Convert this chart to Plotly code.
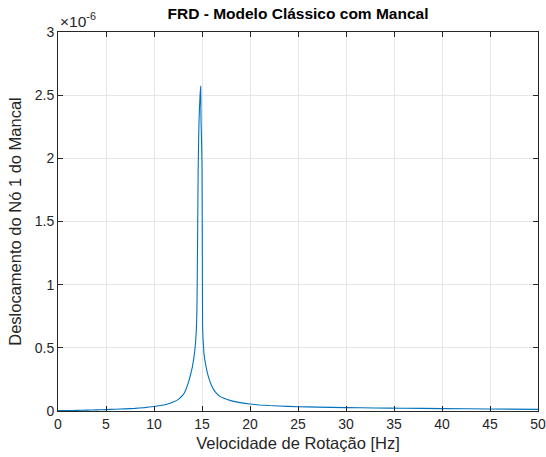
import plotly.graph_objects as go

# Frequency response of bearing node 1 (rotation speed in Hz, displacement in m)
freq_hz = [0, 1, 2, 3, 4, 5, 6, 7, 8, 9, 10, 10.5, 11, 11.5, 12, 12.5, 13, 13.3,
           13.6, 13.8, 14.0, 14.15, 14.25, 14.35, 14.42, 14.47, 14.5, 14.55,
           14.6, 14.65, 14.7, 14.75, 14.8, 14.86, 14.9, 14.95, 15.0, 15.03,
           15.06, 15.1, 15.2, 15.3, 15.45, 15.6, 15.8, 16.0, 16.4, 16.8, 17.3,
           18, 19, 20, 21, 22, 23, 25, 27, 30, 33, 36, 40, 45, 50]
desloc_micro = [0.003, 0.004, 0.005, 0.007, 0.009, 0.011, 0.014, 0.017, 0.021,
                0.027, 0.036, 0.041, 0.048, 0.058, 0.072, 0.090, 0.125, 0.165,
                0.230, 0.285, 0.350, 0.420, 0.480, 0.560, 0.660, 0.800, 1.000,
                1.450, 1.900, 2.150, 2.320, 2.420, 2.500, 2.570, 2.300, 2.150,
                1.950, 1.350, 0.680, 0.580, 0.460, 0.400, 0.340, 0.290, 0.240,
                0.200, 0.150, 0.120, 0.100, 0.082, 0.066, 0.055, 0.048, 0.043,
                0.040, 0.034, 0.031, 0.027, 0.024, 0.022, 0.019, 0.016, 0.013]
deslocamento = [v * 1e-6 for v in desloc_micro]

x_ticks = [0, 5, 10, 15, 20, 25, 30, 35, 40, 45, 50]
y_tick_labels = ["0", "0.5", "1", "1.5", "2", "2.5", "3"]
y_ticks = [float(t) * 1e-6 for t in y_tick_labels]

FONT = "Liberation Sans, Arial, sans-serif"
AXIS_GRAY = "#262626"

fig = go.Figure()
fig.add_trace(go.Scatter(
    x=freq_hz, y=deslocamento, mode="lines",
    line=dict(color="#0072BD", width=1.1),
    line_shape="spline", line_smoothing=0.3,
    showlegend=False,
))

fig.update_layout(
    width=546, height=457,
    margin=dict(l=58, r=8, t=32, b=46, autoexpand=False),
    paper_bgcolor="white", plot_bgcolor="white",
    font=dict(family=FONT, color=AXIS_GRAY, size=14),
    title=dict(text="<b>FRD - Modelo Clássico com Mancal</b>",
               x=(58 + 538) / 2 / 546, xanchor="center",
               y=1 - 14 / 457, yanchor="middle",
               font=dict(size=15.5, color="black", family=FONT)),
)

fig.update_xaxes(
    range=[0, 50], tickvals=x_ticks,
    ticks="inside", ticklen=5, tickcolor=AXIS_GRAY, tickwidth=1,
    showline=True, linecolor=AXIS_GRAY, linewidth=1, mirror="allticks",
    showgrid=True, gridcolor="#e6e6e6", gridwidth=1,
    zeroline=False, automargin=False,
    tickfont=dict(size=14, color=AXIS_GRAY),
    title=dict(text="Velocidade de Rotação [Hz]", standoff=6,
               font=dict(size=16.5, color=AXIS_GRAY)),
)
fig.update_yaxes(
    range=[0, 3e-6], tickvals=y_ticks, ticktext=y_tick_labels,
    ticks="inside", ticklen=5, tickcolor=AXIS_GRAY, tickwidth=1,
    showline=True, linecolor=AXIS_GRAY, linewidth=1, mirror="allticks",
    showgrid=True, gridcolor="#e6e6e6", gridwidth=1,
    zeroline=True, zerolinecolor="#9a9a9a", zerolinewidth=2,
    automargin=False,
    tickfont=dict(size=14, color=AXIS_GRAY),
    title=dict(text="Deslocamento do Nó 1 do Mancal", standoff=8,
               font=dict(size=16.5, color=AXIS_GRAY)),
)

# Exponent marker for the y axis
fig.add_annotation(
    text="×10<sup>-6</sup>", xref="paper", yref="paper",
    x=0, y=1, xanchor="left", yanchor="bottom", xshift=0, yshift=0,
    showarrow=False, font=dict(size=15.5, color=AXIS_GRAY, family=FONT),
)

fig.write_html("out.html")
